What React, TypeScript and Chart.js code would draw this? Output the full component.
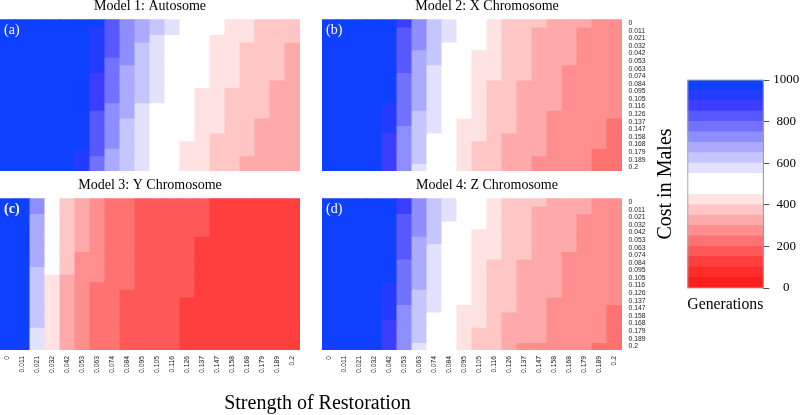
import React, { useEffect, useRef } from 'react';
import { Chart, registerables } from 'chart.js';

Chart.register(...registerables);

const SERIF = '"Liberation Serif", "Times New Roman", serif';
const SANS = '"Liberation Sans", Arial, sans-serif';

// Strength of restoration (columns)
const strengthLabels = ['0', '0.011', '0.021', '0.032', '0.042', '0.053', '0.063', '0.074', '0.084', '0.095', '0.105', '0.116', '0.126', '0.137', '0.147', '0.158', '0.168', '0.179', '0.189', '0.2'];
// Row parameter labels (rows, top to bottom)
const rowLabels = ['0', '0.011', '0.021', '0.032', '0.042', '0.053', '0.063', '0.074', '0.084', '0.095', '0.105', '0.116', '0.126', '0.137', '0.147', '0.158', '0.168', '0.179', '0.189', '0.2'];

// Colour scale: band edges (generations) and colours for each band
const colorBreaks = [0, 50, 100, 150, 200, 250, 300, 350, 400, 450, 500, 550, 600, 650, 700, 750, 800, 850, 900, 950, 1000];
const bandColors = [
  'rgb(255,28,28)', 'rgb(255,44,44)', 'rgb(255,62,62)', 'rgb(255,88,88)', 'rgb(255,114,114)',
  'rgb(255,142,142)', 'rgb(255,170,170)', 'rgb(255,198,198)', 'rgb(255,226,226)', 'rgb(255,255,255)',
  'rgb(255,255,255)', 'rgb(226,226,255)', 'rgb(198,198,255)', 'rgb(170,170,255)', 'rgb(142,142,255)',
  'rgb(114,114,255)', 'rgb(88,88,255)', 'rgb(60,62,255)', 'rgb(36,60,255)', 'rgb(16,64,255)',
];
const colorbarTickStep = 200;

// Cost in males (generations), rows = row parameter, columns = strength of restoration
const autosomeCost = [
  [1000, 1000, 1000, 1000, 1000, 1000, 1000, 825, 725, 675, 625, 575, 500, 500, 500, 425, 425, 375, 375, 375],
  [1000, 1000, 1000, 1000, 1000, 1000, 925, 825, 725, 675, 625, 575, 500, 500, 500, 425, 425, 375, 375, 375],
  [1000, 1000, 1000, 1000, 1000, 1000, 925, 825, 725, 675, 575, 500, 500, 500, 425, 425, 425, 375, 375, 375],
  [1000, 1000, 1000, 1000, 1000, 1000, 925, 825, 725, 625, 575, 500, 500, 500, 425, 425, 375, 375, 375, 325],
  [1000, 1000, 1000, 1000, 1000, 1000, 925, 825, 725, 625, 575, 500, 500, 500, 425, 425, 375, 375, 375, 325],
  [1000, 1000, 1000, 1000, 1000, 1000, 925, 775, 725, 625, 575, 500, 500, 500, 425, 425, 375, 375, 375, 325],
  [1000, 1000, 1000, 1000, 1000, 1000, 925, 775, 675, 625, 575, 500, 500, 500, 425, 425, 375, 375, 375, 325],
  [1000, 1000, 1000, 1000, 1000, 1000, 875, 775, 675, 625, 575, 500, 500, 500, 425, 425, 375, 375, 375, 325],
  [1000, 1000, 1000, 1000, 1000, 1000, 875, 775, 675, 625, 575, 500, 500, 500, 425, 425, 375, 375, 325, 325],
  [1000, 1000, 1000, 1000, 1000, 1000, 875, 775, 675, 625, 575, 500, 500, 425, 425, 375, 375, 375, 325, 325],
  [1000, 1000, 1000, 1000, 1000, 1000, 875, 775, 675, 625, 575, 500, 500, 425, 425, 375, 375, 375, 325, 325],
  [1000, 1000, 1000, 1000, 1000, 1000, 875, 725, 675, 575, 500, 500, 500, 425, 425, 375, 375, 375, 325, 325],
  [1000, 1000, 1000, 1000, 1000, 1000, 825, 725, 675, 575, 500, 500, 500, 425, 425, 375, 375, 375, 325, 325],
  [1000, 1000, 1000, 1000, 1000, 1000, 825, 725, 625, 575, 500, 500, 500, 425, 425, 375, 375, 325, 325, 325],
  [1000, 1000, 1000, 1000, 1000, 1000, 825, 725, 625, 575, 500, 500, 500, 425, 425, 375, 375, 325, 325, 325],
  [1000, 1000, 1000, 1000, 1000, 1000, 825, 725, 625, 575, 500, 500, 500, 425, 375, 375, 375, 325, 325, 325],
  [1000, 1000, 1000, 1000, 1000, 1000, 825, 725, 625, 575, 500, 500, 425, 425, 375, 375, 375, 325, 325, 325],
  [1000, 1000, 1000, 1000, 1000, 925, 825, 675, 625, 575, 500, 500, 425, 425, 375, 375, 375, 325, 325, 325],
  [1000, 1000, 1000, 1000, 1000, 925, 775, 675, 625, 575, 500, 500, 425, 425, 375, 375, 325, 325, 325, 325],
  [1000, 1000, 1000, 1000, 1000, 925, 775, 675, 625, 575, 500, 500, 425, 425, 375, 375, 325, 325, 325, 325],
];

const xChromosomeCost = [
  [1000, 1000, 1000, 1000, 1000, 875, 725, 625, 575, 500, 500, 425, 375, 375, 375, 325, 325, 325, 275, 275],
  [1000, 1000, 1000, 1000, 1000, 825, 725, 625, 575, 500, 500, 425, 375, 375, 325, 325, 325, 275, 275, 275],
  [1000, 1000, 1000, 1000, 1000, 825, 725, 625, 575, 500, 500, 425, 375, 375, 325, 325, 325, 275, 275, 275],
  [1000, 1000, 1000, 1000, 1000, 825, 725, 625, 500, 500, 500, 425, 375, 375, 325, 325, 325, 275, 275, 275],
  [1000, 1000, 1000, 1000, 1000, 825, 675, 625, 500, 500, 425, 425, 375, 375, 325, 325, 325, 275, 275, 275],
  [1000, 1000, 1000, 1000, 1000, 825, 675, 625, 500, 500, 425, 425, 375, 375, 325, 325, 325, 275, 275, 275],
  [1000, 1000, 1000, 1000, 1000, 825, 675, 575, 500, 500, 425, 425, 375, 375, 325, 325, 275, 275, 275, 275],
  [1000, 1000, 1000, 1000, 1000, 775, 675, 575, 500, 500, 425, 425, 375, 375, 325, 325, 275, 275, 275, 275],
  [1000, 1000, 1000, 1000, 1000, 775, 675, 575, 500, 500, 425, 375, 375, 325, 325, 325, 275, 275, 275, 275],
  [1000, 1000, 1000, 1000, 1000, 775, 675, 575, 500, 500, 425, 375, 375, 325, 325, 325, 275, 275, 275, 275],
  [1000, 1000, 1000, 1000, 1000, 775, 675, 575, 500, 500, 425, 375, 375, 325, 325, 325, 275, 275, 275, 275],
  [1000, 1000, 1000, 1000, 925, 775, 675, 575, 500, 500, 425, 375, 375, 325, 325, 325, 275, 275, 275, 275],
  [1000, 1000, 1000, 1000, 925, 775, 625, 575, 500, 500, 425, 375, 375, 325, 325, 275, 275, 275, 275, 275],
  [1000, 1000, 1000, 1000, 925, 775, 625, 575, 500, 425, 425, 375, 375, 325, 325, 275, 275, 275, 275, 225],
  [1000, 1000, 1000, 1000, 925, 725, 625, 575, 500, 425, 425, 375, 375, 325, 325, 275, 275, 275, 275, 225],
  [1000, 1000, 1000, 1000, 875, 725, 625, 500, 500, 425, 425, 375, 325, 325, 325, 275, 275, 275, 275, 225],
  [1000, 1000, 1000, 1000, 875, 725, 625, 500, 500, 425, 375, 375, 325, 325, 325, 275, 275, 275, 275, 225],
  [1000, 1000, 1000, 1000, 875, 725, 625, 500, 500, 425, 375, 375, 325, 325, 325, 275, 275, 275, 225, 225],
  [1000, 1000, 1000, 1000, 875, 725, 625, 500, 500, 425, 375, 375, 325, 325, 275, 275, 275, 275, 225, 225],
  [1000, 1000, 1000, 1000, 875, 725, 575, 500, 500, 425, 375, 375, 325, 325, 275, 275, 275, 275, 225, 225],
];

const yChromosomeCost = [
  [1000, 1000, 725, 500, 375, 325, 275, 225, 225, 175, 175, 175, 175, 175, 125, 125, 125, 125, 125, 125],
  [1000, 1000, 725, 500, 375, 325, 275, 225, 225, 175, 175, 175, 175, 175, 125, 125, 125, 125, 125, 125],
  [1000, 1000, 675, 500, 375, 325, 275, 225, 225, 175, 175, 175, 175, 175, 125, 125, 125, 125, 125, 125],
  [1000, 1000, 675, 500, 375, 325, 275, 225, 225, 175, 175, 175, 175, 175, 125, 125, 125, 125, 125, 125],
  [1000, 1000, 675, 500, 375, 325, 275, 225, 225, 175, 175, 175, 175, 175, 125, 125, 125, 125, 125, 125],
  [1000, 1000, 675, 500, 375, 325, 275, 225, 225, 175, 175, 175, 175, 125, 125, 125, 125, 125, 125, 125],
  [1000, 1000, 675, 500, 375, 325, 275, 225, 225, 175, 175, 175, 175, 125, 125, 125, 125, 125, 125, 125],
  [1000, 1000, 675, 500, 375, 275, 275, 225, 225, 175, 175, 175, 175, 125, 125, 125, 125, 125, 125, 125],
  [1000, 1000, 675, 500, 375, 275, 275, 225, 225, 175, 175, 175, 175, 125, 125, 125, 125, 125, 125, 125],
  [1000, 1000, 625, 500, 375, 275, 275, 225, 225, 175, 175, 175, 175, 125, 125, 125, 125, 125, 125, 125],
  [1000, 1000, 625, 425, 325, 275, 275, 225, 225, 175, 175, 175, 175, 125, 125, 125, 125, 125, 125, 125],
  [1000, 1000, 625, 425, 325, 275, 225, 225, 225, 175, 175, 175, 175, 125, 125, 125, 125, 125, 125, 125],
  [1000, 1000, 625, 425, 325, 275, 225, 225, 175, 175, 175, 175, 175, 125, 125, 125, 125, 125, 125, 125],
  [1000, 1000, 625, 425, 325, 275, 225, 225, 175, 175, 175, 175, 125, 125, 125, 125, 125, 125, 125, 125],
  [1000, 1000, 625, 425, 325, 275, 225, 225, 175, 175, 175, 175, 125, 125, 125, 125, 125, 125, 125, 125],
  [1000, 1000, 625, 425, 325, 275, 225, 225, 175, 175, 175, 175, 125, 125, 125, 125, 125, 125, 125, 125],
  [1000, 1000, 625, 425, 325, 275, 225, 225, 175, 175, 175, 175, 125, 125, 125, 125, 125, 125, 125, 125],
  [1000, 1000, 575, 425, 325, 275, 225, 225, 175, 175, 175, 175, 125, 125, 125, 125, 125, 125, 125, 125],
  [1000, 1000, 575, 425, 325, 275, 225, 225, 175, 175, 175, 175, 125, 125, 125, 125, 125, 125, 125, 125],
  [1000, 1000, 575, 425, 325, 275, 225, 225, 175, 175, 175, 175, 125, 125, 125, 125, 125, 125, 125, 125],
];

const zChromosomeCost = [
  [1000, 1000, 1000, 1000, 1000, 875, 725, 625, 575, 500, 500, 425, 375, 375, 375, 325, 325, 325, 275, 275],
  [1000, 1000, 1000, 1000, 1000, 875, 725, 625, 575, 500, 500, 425, 375, 375, 325, 325, 325, 325, 275, 275],
  [1000, 1000, 1000, 1000, 1000, 825, 725, 625, 575, 500, 500, 425, 375, 375, 325, 325, 325, 275, 275, 275],
  [1000, 1000, 1000, 1000, 1000, 825, 725, 625, 500, 500, 500, 425, 375, 375, 325, 325, 325, 275, 275, 275],
  [1000, 1000, 1000, 1000, 1000, 825, 725, 625, 500, 500, 425, 425, 375, 375, 325, 325, 325, 275, 275, 275],
  [1000, 1000, 1000, 1000, 1000, 825, 675, 625, 500, 500, 425, 425, 375, 375, 325, 325, 325, 275, 275, 275],
  [1000, 1000, 1000, 1000, 1000, 825, 675, 575, 500, 500, 425, 425, 375, 375, 325, 325, 325, 275, 275, 275],
  [1000, 1000, 1000, 1000, 1000, 825, 675, 575, 500, 500, 425, 425, 375, 375, 325, 325, 275, 275, 275, 275],
  [1000, 1000, 1000, 1000, 1000, 775, 675, 575, 500, 500, 425, 375, 375, 325, 325, 325, 275, 275, 275, 275],
  [1000, 1000, 1000, 1000, 1000, 775, 675, 575, 500, 500, 425, 375, 375, 325, 325, 325, 275, 275, 275, 275],
  [1000, 1000, 1000, 1000, 1000, 775, 675, 575, 500, 500, 425, 375, 375, 325, 325, 325, 275, 275, 275, 275],
  [1000, 1000, 1000, 1000, 925, 775, 675, 575, 500, 500, 425, 375, 375, 325, 325, 325, 275, 275, 275, 275],
  [1000, 1000, 1000, 1000, 925, 775, 625, 575, 500, 500, 425, 375, 375, 325, 325, 325, 275, 275, 275, 275],
  [1000, 1000, 1000, 1000, 925, 775, 625, 575, 500, 500, 425, 375, 375, 325, 325, 275, 275, 275, 275, 275],
  [1000, 1000, 1000, 1000, 925, 725, 625, 575, 500, 425, 425, 375, 375, 325, 325, 275, 275, 275, 275, 225],
  [1000, 1000, 1000, 1000, 925, 725, 625, 500, 500, 425, 425, 375, 325, 325, 325, 275, 275, 275, 275, 225],
  [1000, 1000, 1000, 1000, 875, 725, 625, 500, 500, 425, 425, 375, 325, 325, 325, 275, 275, 275, 275, 225],
  [1000, 1000, 1000, 1000, 875, 725, 625, 500, 500, 425, 375, 375, 325, 325, 325, 275, 275, 275, 275, 225],
  [1000, 1000, 1000, 1000, 875, 725, 625, 500, 500, 425, 375, 375, 325, 325, 325, 275, 275, 275, 275, 225],
  [1000, 1000, 1000, 1000, 875, 725, 575, 500, 500, 425, 375, 375, 325, 275, 275, 275, 275, 275, 225, 225],
];

function colorFor(v: number): string {
  for (let i = 0; i < bandColors.length; i++) {
    if (v < colorBreaks[i + 1]) return bandColors[i];
  }
  return bandColors[bandColors.length - 1];
}

const panelTagPlugin = {
  id: 'panelTag',
  afterDatasetsDraw(chart: any, _args: any, opts: any) {
    if (!opts || !opts.text) return;
    const { ctx, chartArea } = chart;
    ctx.save();
    ctx.fillStyle = '#ffffff';
    ctx.font = `${opts.bold ? 'bold ' : ''}14px ${SERIF}`;
    ctx.textBaseline = 'middle';
    ctx.textAlign = 'left';
    ctx.fillText(opts.text, chartArea.left + 4, chartArea.top + 11);
    ctx.restore();
  },
};

type HeatProps = {
  title: string;
  tag: string;
  tagBold?: boolean;
  values: number[][];
  left: number;
  top: number;
  showRowLabels: boolean;
  showColLabels: boolean;
};

function Heatmap({ title, tag, tagBold, values, left, top, showRowLabels, showColLabels }: HeatProps) {
  const ref = useRef<HTMLCanvasElement | null>(null);
  const width = showRowLabels ? 330 : 300;
  const height = showColLabels ? 215 : 171;

  useEffect(() => {
    if (!ref.current) return;
    const chart = new Chart(ref.current, {
      type: 'bar',
      data: {
        labels: strengthLabels,
        datasets: values.map((row, r) => ({
          label: rowLabels[r],
          data: row.map(() => 1),
          backgroundColor: row.map(colorFor),
          borderWidth: 0,
          barPercentage: 1,
          categoryPercentage: 1,
          inflateAmount: 0.5,
        })),
      },
      options: {
        animation: false,
        responsive: false,
        events: [],
        layout: { padding: 0 },
        plugins: {
          legend: { display: false },
          tooltip: { enabled: false },
          title: {
            display: true,
            text: title,
            color: '#000',
            font: { family: SERIF, size: 14, weight: 'normal', lineHeight: 0.86 },
            padding: { top: 0, bottom: 7.3 },
          },
          panelTag: { text: tag, bold: !!tagBold },
        } as any,
        scales: {
          x: {
            type: 'category',
            stacked: true,
            display: showColLabels,
            grid: { display: false, drawTicks: false },
            border: { display: false },
            ticks: {
              autoSkip: false,
              minRotation: 90,
              maxRotation: 90,
              padding: 6,
              color: '#222',
              font: { family: SANS, size: 6.8 },
            },
            afterFit: (s: any) => {
              if (!showColLabels) return;
              s.height = 44;
              s.paddingLeft = 0;
              s.paddingRight = 0;
            },
          },
          y: {
            type: 'linear',
            stacked: true,
            min: 0,
            max: values.length,
            reverse: true,
            display: false,
          },
          yr: {
            type: 'category',
            labels: rowLabels,
            position: 'right',
            offset: true,
            display: showRowLabels,
            grid: { display: false, drawTicks: false },
            border: { display: false },
            ticks: {
              autoSkip: false,
              padding: 6.5,
              color: '#222',
              font: { family: SANS, size: 6.8 },
            },
            afterFit: (s: any) => {
              if (!showRowLabels) return;
              s.width = 30;
              s.paddingTop = 0;
              s.paddingBottom = 0;
            },
          },
        } as any,
      },
      plugins: [panelTagPlugin],
    } as any);
    return () => chart.destroy();
  }, [title, tag, tagBold, values, showRowLabels, showColLabels]);

  return (
    <canvas
      ref={ref}
      width={width}
      height={height}
      style={{ position: 'absolute', left, top, width, height }}
    />
  );
}

const framePlugin = {
  id: 'cbFrame',
  afterDatasetsDraw(chart: any) {
    const { ctx, chartArea } = chart;
    ctx.save();
    ctx.strokeStyle = '#aaaaaa';
    ctx.lineWidth = 1;
    ctx.strokeRect(chartArea.left + 0.5, chartArea.top, chartArea.right - chartArea.left - 0.5, chartArea.bottom - chartArea.top);
    ctx.restore();
  },
};

function ColorBar() {
  const ref = useRef<HTMLCanvasElement | null>(null);
  useEffect(() => {
    if (!ref.current) return;
    const chart = new Chart(ref.current, {
      type: 'bar',
      data: {
        labels: [''],
        datasets: bandColors.map((c, i) => ({
          label: `${colorBreaks[i]}-${colorBreaks[i + 1]}`,
          data: [colorBreaks[i + 1] - colorBreaks[i]],
          backgroundColor: c,
          borderWidth: 0,
          barPercentage: 1,
          categoryPercentage: 1,
          inflateAmount: 0.5,
        })),
      },
      options: {
        animation: false,
        responsive: false,
        events: [],
        layout: { padding: { top: 20, left: 0, right: 0, bottom: 0 } },
        plugins: { legend: { display: false }, tooltip: { enabled: false } },
        scales: {
          x: {
            stacked: true,
            grid: { display: false, drawTicks: false },
            border: { display: false },
            ticks: { display: false },
            title: {
              display: true,
              text: 'Generations',
              color: '#000',
              font: { family: SERIF, size: 16, lineHeight: 1.2 },
              padding: { top: 0, bottom: 3.7 },
            },
            afterFit: (s: any) => {
              s.height = 30;
              s.paddingLeft = 0;
              s.paddingRight = 0;
            },
          },
          y: {
            stacked: true,
            position: 'right',
            min: colorBreaks[0],
            max: colorBreaks[colorBreaks.length - 1],
            ticks: {
              stepSize: colorbarTickStep,
              padding: 4,
              crossAlign: 'center',
              color: '#000',
              font: { family: SERIF, size: 13 },
              callback: (v: any) => String(v),
            },
            grid: { drawOnChartArea: false, drawTicks: true, tickLength: 6, color: '#555' },
            border: { display: true, color: '#555', width: 1 },
            afterFit: (s: any) => {
              s.width = 36.7;
              s.paddingTop = 0;
              s.paddingBottom = 0;
            },
          },
          yl: {
            type: 'linear',
            position: 'left',
            display: true,
            ticks: { display: false },
            grid: { display: false, drawTicks: false },
            border: { display: false },
            title: {
              display: true,
              text: 'Cost in Males',
              color: '#000',
              font: { family: SERIF, size: 20, lineHeight: 1.2 },
              padding: { top: 3.5, bottom: 0 },
            },
            afterFit: (s: any) => {
              s.width = 37.3;
              s.paddingTop = 0;
              s.paddingBottom = 0;
            },
          },
        } as any,
      },
      plugins: [framePlugin],
    } as any);
    return () => chart.destroy();
  }, []);
  return (
    <canvas
      ref={ref}
      width={150}
      height={258}
      style={{ position: 'absolute', left: 650, top: 60, width: 150, height: 258 }}
    />
  );
}

export default function App() {
  return (
    <div
      style={{
        position: 'absolute',
        left: 0,
        top: 0,
        width: 800,
        height: 415,
        background: '#ffffff',
        overflow: 'hidden',
      }}
    >
      <Heatmap title="Model 1: Autosome" tag="(a)" values={autosomeCost} left={0} top={0} showRowLabels={false} showColLabels={false} />
      <Heatmap title="Model 2: X Chromosome" tag="(b)" values={xChromosomeCost} left={322} top={0} showRowLabels={true} showColLabels={false} />
      <Heatmap title="Model 3: Y Chromosome" tag="(c)" tagBold={true} values={yChromosomeCost} left={0} top={179} showRowLabels={false} showColLabels={true} />
      <Heatmap title="Model 4: Z Chromosome" tag="(d)" values={zChromosomeCost} left={322} top={179} showRowLabels={true} showColLabels={true} />
      <ColorBar />
      <div
        style={{
          position: 'absolute',
          left: 0,
          top: 391,
          width: 635,
          textAlign: 'center',
          fontFamily: SERIF,
          fontSize: 20,
          lineHeight: '22px',
          color: '#000',
        }}
      >
        Strength of Restoration
      </div>
    </div>
  );
}
